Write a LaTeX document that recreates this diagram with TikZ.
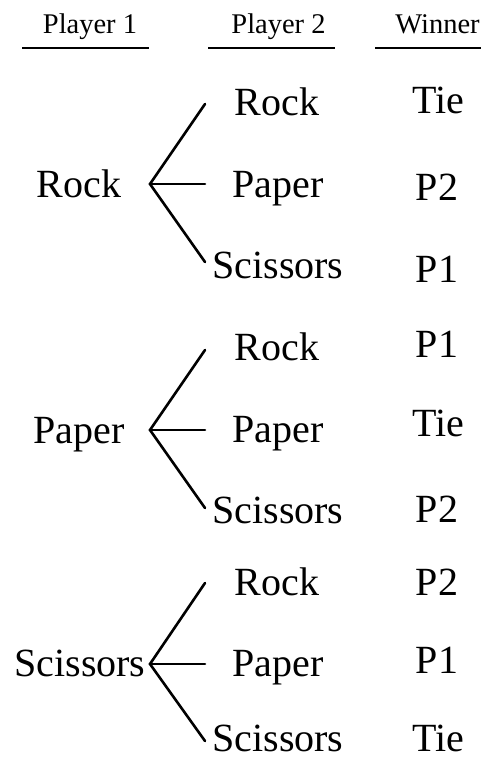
\documentclass[tikz,border=0pt]{standalone}
\usepackage{fontspec}
\setmainfont{Liberation Serif}
\begin{document}
\begin{tikzpicture}[x=1pt,y=-1pt,
  head/.style={anchor=base,inner sep=0pt,font=\fontsize{28.5}{32}\selectfont},
  big/.style={anchor=base,inner sep=0pt,font=\fontsize{40}{46}\selectfont},
  rule/.style={line width=2.3pt},
  branch/.style={line width=2.6pt,line cap=round}]
\useasboundingbox (0,0) rectangle (481,761);
% headers
\node[head] (h1) at (90,33) {Player 1};
\node[head] (h2) at (278.5,33) {Player 2};
\node[head] (h3) at (437.5,33) {Winner};
\coordinate (l1a) at (22,48); \coordinate (l1b) at (149,48);
\coordinate (l2a) at (208,48); \coordinate (l2b) at (335,48);
\coordinate (l3a) at (375,48); \coordinate (l3b) at (490,48);
\draw[rule] (l1a) -- (l1b);
\draw[rule] (l2a) -- (l2b);
\draw[rule] (l3a) -- (l3b);
% group 1
\node[big] (p1) at (79,197) {Rock};
\coordinate (a1) at (150,184);
\coordinate (a1u) at (205,104); \coordinate (a1m) at (205,184); \coordinate (a1d) at (205,262);
\draw[branch] (a1u) -- (a1) -- (a1d); \draw[branch] (a1) -- (a1m);
\node[big] (c11) at (277,115) {Rock};
\node[big] (c12) at (278,197) {Paper};
\node[big] (c13) at (278,278) {Scissors};
\node[big] (w11) at (438,113) {Tie};
\node[big] (w12) at (437,200) {P2};
\node[big] (w13) at (437,282) {P1};
% group 2
\node[big] (p2) at (79,443) {Paper};
\coordinate (a2) at (150,430);
\coordinate (a2u) at (205,350); \coordinate (a2m) at (205,430); \coordinate (a2d) at (205,508);
\draw[branch] (a2u) -- (a2) -- (a2d); \draw[branch] (a2) -- (a2m);
\node[big] (c21) at (277,360) {Rock};
\node[big] (c22) at (278,442) {Paper};
\node[big] (c23) at (278,523) {Scissors};
\node[big] (w21) at (437,357) {P1};
\node[big] (w22) at (438,436) {Tie};
\node[big] (w23) at (437,522) {P2};
% group 3
\node[big] (p3) at (80,676) {Scissors};
\coordinate (a3) at (150,664);
\coordinate (a3u) at (205,583); \coordinate (a3m) at (205,664); \coordinate (a3d) at (205,741);
\draw[branch] (a3u) -- (a3) -- (a3d); \draw[branch] (a3) -- (a3m);
\node[big] (c31) at (277,595) {Rock};
\node[big] (c32) at (278,676) {Paper};
\node[big] (c33) at (278,751) {Scissors};
\node[big] (w31) at (437,595) {P2};
\node[big] (w32) at (437,673) {P1};
\node[big] (w33) at (438,751) {Tie};
\end{tikzpicture}
\end{document}
